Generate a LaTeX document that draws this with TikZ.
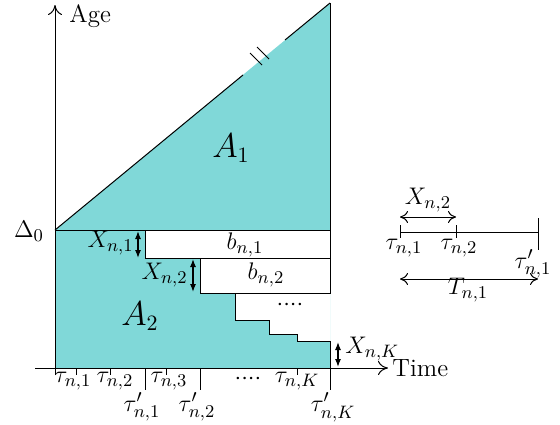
\documentclass[tikz,border=0pt]{standalone}
\usetikzlibrary{arrows.meta}
\definecolor{teal1}{RGB}{128,216,216}
\begin{document}
\begin{tikzpicture}[x=0.5pt,y=-0.5pt,
  every node/.style={font=\fontsize{12.5}{14}\selectfont, inner sep=1pt},
  axis/.style={line width=0.5pt,-{To[length=5pt,width=7pt]}},
  dim/.style={line width=0.6pt,{Latex[length=4pt,width=3pt]}-{Latex[length=4pt,width=3pt]}},
  span/.style={line width=0.5pt,{To[length=4pt,width=6pt]}-{To[length=4pt,width=6pt]}},
  edge/.style={line width=0.5pt},
  thin/.style={line width=0.4pt},
  bigl/.style={font=\fontsize{16}{18}\selectfont},
  midl/.style={font=\fontsize{12.5}{14}\selectfont}]
\useasboundingbox (0,0) rectangle (560,424);
% key points
\coordinate (D0) at (55,230);
\coordinate (Top) at (330,3);
\coordinate (RB) at (330,368);
\coordinate (LB) at (55,368);
% filled region
\fill[teal1] (D0) -- (Top) -- (RB) -- (LB) -- cycle;
% white cut-outs
\fill[white] (145,230) rectangle (330,258);
\fill[white] (200,258) rectangle (330,293);
\fill[white] (200,293) -- (235,293) -- (235,320) -- (269,320) -- (269,334) -- (297,334) -- (297,341) -- (330,341) -- (330,293) -- cycle;
% boxes
\draw[edge] (145,258) rectangle (330,230);
\draw[thin] (200,293) rectangle (330,258);
\draw[thin] (235,293) -- (235,320) -- (269,320) -- (269,334) -- (297,334) -- (297,341) -- (330,341);
% hypotenuse with break
\coordinate (H1) at (243,75);
\coordinate (H2) at (285,40);
\draw[edge] (D0) -- (H1);
\draw[edge] (H2) -- (Top);
\draw[thin] (250,53) -- (262,65);
\draw[thin] (257,47) -- (269,59);
% right boundary and Delta0 line
\draw[edge] (Top) -- (330,230);
\draw[edge] (330,341) -- (330,390);
\draw[edge] (D0) -- (145,230);
% axes
\draw[axis] (55,375) -- (55,5);
\draw[axis] (35,368) -- (388,368);
\node[anchor=west] (age) at (67,16) {Age};
\node[anchor=west] (time) at (390,368) {Time};
\node (delta) at (29,231) {$\Delta_0$};
% ticks
\draw[thin] (76,368) -- (76,375);
\draw[thin] (110,368) -- (110,375);
\draw[thin] (166,368) -- (166,375);
\draw[thin] (297,368) -- (297,375);
\draw[edge] (145,368) -- (145,390);
\draw[edge] (200,368) -- (200,390);
% tick labels
\node (t1) at (73,381) {$\tau_{n,1}$};
\node (t2) at (115,381) {$\tau_{n,2}$};
\node (t3) at (169,381) {$\tau_{n,3}$};
\node (dots1) at (248,379) {$\cdot{\cdot}{\cdot}{\cdot}$};
\node (tK) at (297,381) {$\tau_{n,K}$};
\node (tp1) at (142,407) {$\tau'_{n,1}$};
\node (tp2) at (197,407) {$\tau'_{n,2}$};
\node (tpK) at (333,407) {$\tau'_{n,K}$};
% region labels
\node[bigl] (A1) at (231,148) {$A_1$};
\node[bigl] (A2) at (140,316) {$A_2$};
\node[midl] (b1) at (245,245) {$b_{n,1}$};
\node[midl] (b2) at (266,275) {$b_{n,2}$};
\node (dots2) at (290,305) {${\cdot}{\cdot}{\cdot}{\cdot}$};
% dimension arrows
\draw[dim] (138,231) -- (138,258);
\node[anchor=east] (X1) at (136,243) {$X_{n,1}$};
\draw[dim] (193,259) -- (193,292);
\node[anchor=east] (X2) at (190,275) {$X_{n,2}$};
\draw[dim] (338,342) -- (338,367);
\node[anchor=west] (XK) at (343,349) {$X_{n,K}$};
% right panel
\coordinate (P1) at (400,232);
\coordinate (P2) at (456,232);
\coordinate (P3) at (538,232);
\draw[thin] (P1) -- (P3);
\draw[thin] (400,225) -- (400,238);
\draw[thin] (456,225) -- (456,238);
\draw[thin] (538,218) -- (538,250);
\node (r1) at (404,248) {$\tau_{n,1}$};
\node (r2) at (459,248) {$\tau_{n,2}$};
\node (r3) at (533,264) {$\tau'_{n,1}$};
\draw[span] (400,217) -- (456,217);
\node (rX) at (428,200) {$X_{n,2}$};
\draw[span] (400,279) -- (538,279);
\node (rT) at (468,290) {$T_{n,1}$};
\end{tikzpicture}
\end{document}
